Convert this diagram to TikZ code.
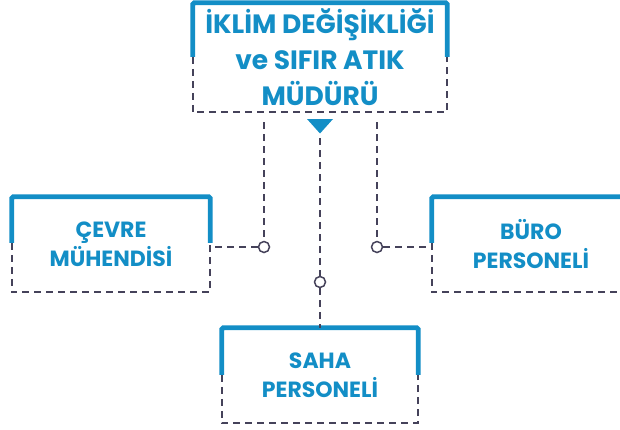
\documentclass[tikz,border=0pt]{standalone}
\usepackage{fontspec}
\setmainfont{Poppins}
\usetikzlibrary{calc}
\definecolor{brandblue}{HTML}{138EC6}
\definecolor{dashgray}{HTML}{45425A}
\tikzset{
  boxnode/.style={rectangle, inner sep=0pt, minimum width=#1, align=center, text=brandblue, font=\bfseries},
  bluebar/.style={draw=brandblue, line width=4.8pt, rounded corners=1.5pt, line cap=butt},
  dashline/.style={draw=dashgray, line width=1.7pt, dash pattern=on 7pt off 5pt},
  joint/.style={circle, draw=dashgray, fill=white, line width=1.5pt, minimum size=11pt, inner sep=0pt},
  toptext/.style={font=\fontsize{26.5}{36}\selectfont\bfseries},
  subtext/.style={font=\fontsize{22}{29}\selectfont\bfseries}
}
\begin{document}
\begin{tikzpicture}[x=1pt,y=1pt]
\useasboundingbox (0,0) rectangle (620,-429);
\begin{scope}
\clip (0,0) rectangle (620,-429);
% boxes (frames are drawn from node anchors)
\node[boxnode=254pt, minimum height=109pt, toptext] (top) at (320,-57.5) {İKLİM DEĞİŞİKLİĞİ\\ve SIFIR ATIK\\MÜDÜRÜ};
\node[boxnode=198pt, minimum height=95pt, subtext] (left) at (111,-244.5) {ÇEVRE\\MÜHENDİSİ};
\node[boxnode=198pt, minimum height=95pt, subtext] (right) at (531,-244.5) {BÜRO\\PERSONELİ};
\node[boxnode=196pt, minimum height=95pt, subtext] (saha) at (320,-375.5) {SAHA\\PERSONELİ};

% top box frame
\draw[bluebar] ([yshift=-54pt]top.north west) -- (top.north west) -- (top.north east) -- ([yshift=-54pt]top.north east);
\draw[dashline] ([yshift=-54pt]top.north west) -- (top.south west) -- (top.south east) -- ([yshift=-54pt]top.north east);
% left box frame
\draw[bluebar] ([yshift=-46pt]left.north west) -- (left.north west) -- (left.north east) -- ([yshift=-46pt]left.north east);
\draw[dashline] ([yshift=-46pt]left.north west) -- (left.south west) -- (left.south east) -- ([yshift=-46pt]left.north east);
% right box frame
\draw[bluebar] ([yshift=-46pt]right.north west) -- (right.north west) -- (right.north east) -- ([yshift=-46pt]right.north east);
\draw[dashline] ([yshift=-46pt]right.north west) -- (right.south west) -- (right.south east) -- ([yshift=-46pt]right.north east);
% saha box frame
\draw[bluebar] ([yshift=-47pt]saha.north west) -- (saha.north west) -- (saha.north east) -- ([yshift=-47pt]saha.north east);
\draw[dashline] ([yshift=-47pt]saha.north west) -- (saha.south west) -- (saha.south east) -- ([yshift=-47pt]saha.north east);

% triangle marker
\fill[brandblue] (307,-119) -- (333,-119) -- (320,-133.5) -- cycle;
\coordinate (tri) at (320,-138);

% joints
\node[joint] (j1) at (264,-247) {};
\node[joint] (j2) at (377,-247) {};
\node[joint] (j3) at (320,-282) {};

% connectors
\draw[dashline] ([yshift=-10pt]j1 |- top.south) -- (j1);
\draw[dashline] ([yshift=-10pt]j2 |- top.south) -- (j2);
\draw[dashline] (j1) -- ([xshift=4pt]left.east |- j1);
\draw[dashline] (j2) -- (right.west |- j2);
\draw[dashline] (tri) -- (j3);
\draw[dashline] (j3) -- (saha.north);
\end{scope}
\end{tikzpicture}
\end{document}
